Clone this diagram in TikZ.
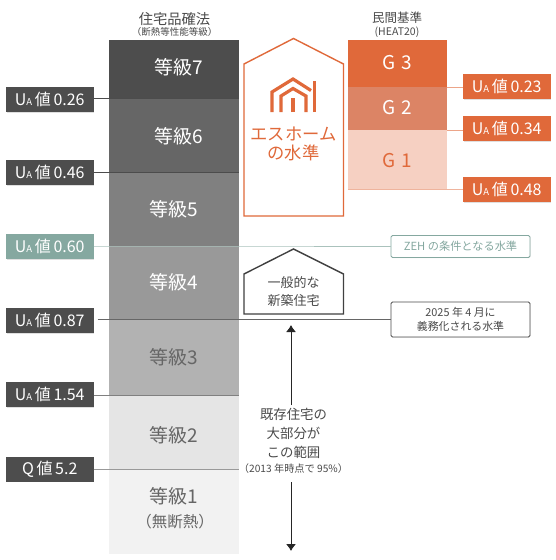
\documentclass[tikz,border=0pt]{standalone}
\usepackage{fontspec}
\setmainfont{Noto Sans CJK JP}
\usetikzlibrary{arrows.meta,shadows}
\definecolor{orangeA}{HTML}{E0693A}
\definecolor{orangeB}{HTML}{DC8465}
\definecolor{orangeC}{HTML}{F6D0C2}
\definecolor{tealA}{HTML}{85A8A0}
\definecolor{darkA}{HTML}{4D4D4D}
\definecolor{txtA}{HTML}{4A4A4A}
\newcommand{\UA}[1]{U\raisebox{-0.3pt}{\fontsize{9.5}{10}\selectfont A}\,値\,#1}
\tikzset{
  every node/.style={inner sep=0pt,outer sep=0pt,align=center},
  barbox/.style={minimum width=130pt,anchor=north west},
  gbox/.style={minimum width=99pt,anchor=north west},
  gradetxt/.style={font=\fontsize{19}{22}\selectfont},
  valbox/.style={minimum width=87.5pt,minimum height=25pt,text=white,font=\fontsize{16}{18}\selectfont,
    drop shadow={shadow xshift=0.6pt,shadow yshift=-0.6pt,opacity=0.25}},
  gval/.style={valbox,fill=orangeA},
  lval/.style={valbox,fill=darkA},
  tag/.style={rounded corners=1.5pt,line width=0.9pt,fill=white,minimum width=139pt,
    drop shadow={shadow xshift=0.5pt,shadow yshift=-0.5pt,opacity=0.2}},
  conn/.style={line width=0.8pt},
  updown/.style={line width=1pt,color=black!85,-{Latex[length=7pt,width=10pt]}}
}
\begin{document}
\begin{tikzpicture}[x=1pt,y=-1pt]
\useasboundingbox (0,0) rectangle (556,560);
% grade column
\fill[white] (0,0) rectangle (556,560);
\node[barbox,fill=darkA,minimum height=58pt] (bar7) at (109,40) {};
\node[barbox,fill=black!60,minimum height=74pt] (bar6) at (109,98) {};
\node[barbox,fill=black!50,minimum height=74pt] (bar5) at (109,172) {};
\node[barbox,fill=black!40,minimum height=73pt] (bar4) at (109,246) {};
\node[barbox,fill=black!30,minimum height=76pt] (bar3) at (109,319) {};
\node[barbox,fill=black!10,minimum height=74pt] (bar2) at (109,395) {};
\node[barbox,fill=black!5,minimum height=85pt] (bar1) at (109,469) {};
\node[gradetxt,text=white] (t7) at (179,67) {等級7};
\node[gradetxt,text=white] (t6) at (179,136) {等級6};
\node[gradetxt,text=white] (t5) at (174,209) {等級5};
\node[gradetxt,text=white] (t4) at (174,282) {等級4};
\node[gradetxt,text=black!60] (t3) at (174,357) {等級3};
\node[gradetxt,text=black!60] (t2) at (174,435) {等級2};
\node[gradetxt,text=black!60] (t1) at (174,496) {等級1};
\node[text=black!60,font=\fontsize{15.5}{17}\selectfont] (t1b) at (175,522) {（無断熱）};
% heads
\node[text=txtA,font=\fontsize{14.3}{16}\selectfont] (h1) at (174.5,19) {住宅品確法};
\node[text=txtA,font=\fontsize{9.5}{10}\selectfont] (h1b) at (174.5,32) {（断熱等性能等級）};
\node[text=txtA,font=\fontsize{12.5}{14}\selectfont] (h2) at (397,18) {民間基準};
\node[text=txtA,font=\fontsize{10.5}{11}\selectfont] (h2b) at (397,32) {(HEAT20)};
% G column
\node[gbox,fill=orangeA,minimum height=47pt] (g3) at (348,40) {};
\node[gbox,fill=orangeB,minimum height=43pt] (g2) at (348,87) {};
\node[gbox,fill=orangeC,minimum height=59pt] (g1) at (348,130) {};
\node[text=white,font=\fontsize{19}{22}\selectfont] (tg3) at (397,63) {G\,\,3};
\node[text=white,font=\fontsize{19}{22}\selectfont] (tg2) at (397,108) {G\,\,2};
\node[text=orangeA,font=\fontsize{19}{22}\selectfont] (tg1) at (397,161) {G\,\,1};
% left value labels
\node[lval,anchor=west] (u26) at (6,99.5) {\UA{0.26}};
\node[lval,anchor=west] (u46) at (6,172.5) {\UA{0.46}};
\node[valbox,fill=tealA,anchor=west] (u60) at (6,246.5) {\UA{0.60}};
\node[lval,anchor=west] (u87) at (6,320.5) {\UA{0.87}};
\node[lval,anchor=west] (u154) at (6,394.5) {\UA{1.54}};
\node[lval,anchor=west] (q52) at (6,469) {Q\,値\,5.2};
% right value labels
\node[gval,anchor=west] (u23) at (463,86.5) {\UA{0.23}};
\node[gval,anchor=west] (u34) at (463,128.5) {\UA{0.34}};
\node[gval,anchor=west] (u48) at (463,189.5) {\UA{0.48}};
% tags
\node[tag,draw=tealA,text=tealA,minimum height=22pt,font=\fontsize{11.2}{13}\selectfont,anchor=west] (zeh) at (391,246.5) {ZEH の条件となる水準};
\node[tag,draw=black!70,text=txtA,minimum height=35pt,font=\fontsize{10.9}{14}\selectfont,anchor=west] (y25) at (391,319.5) {2025 年 4 月に\\義務化される水準};
% connectors
\draw[conn,black!70] (u26.east |- bar7.south) -- (bar7.south east);
\draw[conn,black!70] (u46.east |- bar6.south) -- (bar6.south east);
\draw[conn,tealA!70] (u60.east |- bar5.south) -- (bar5.south east) -- (zeh.west |- bar5.south);
\draw[conn,black!60] ([xshift=4pt]u87.east |- bar4.south) -- (y25.west |- bar4.south);
\draw[conn,black!50] (u154.east |- bar3.south) -- (bar3.south east);
\draw[conn,black!40] (q52.east |- bar2.south) -- (bar2.south east);
\draw[conn,orangeA!60] (g3.south east) -- (u23.west |- g3.south);
\draw[conn,orangeA!60] (g2.south east) -- (u34.west |- g2.south);
\draw[conn,orangeA!50] (g1.south west) -- (u48.west |- g1.south);
% houses
\draw[orangeA,line width=1.4pt] (244,64) -- (293.5,38.5) -- (343.5,64) -- (343.5,216) -- (244,216) -- cycle;
\draw[black!75,line width=1.4pt] (244,274) -- (293.5,249) -- (343.5,274) -- (343.5,314) -- (244,314) -- cycle;
\node[text=orangeA,font=\fontsize{17.3}{18.5}\selectfont] (es) at (293.5,144) {エスホーム\\の水準};
\node[text=txtA,font=\fontsize{13}{18}\selectfont] (ip) at (293.5,291.5) {一般的な\\新築住宅};
% logo
\draw[orangeA,line width=3.2pt] (272,112) -- (272,92) -- (293,79) -- (311,90.5);
\draw[orangeA,line width=3.2pt] (314.5,112) -- (314.5,81);
\draw[orangeA,line width=3.2pt] (281,112) -- (281,96) -- (293,88.5) -- (306,96) -- (306,112);
\draw[orangeA,line width=3.2pt] (293,112) -- (293,98);
% range
\node[text=txtA,font=\fontsize{13.4}{19}\selectfont] (rng) at (293.5,433) {既存住宅の\\大部分が\\この範囲};
\node[text=txtA,font=\fontsize{10.2}{11}\selectfont] (rng2) at (293.5,469) {（2013 年時点で 95\%）};
\coordinate (upA) at (291,405); \coordinate (upB) at (291,325);
\coordinate (dnA) at (291,482); \coordinate (dnB) at (291,551);
\draw[updown] (upA) -- (upB);
\draw[updown] (dnA) -- (dnB);
\end{tikzpicture}
\end{document}
